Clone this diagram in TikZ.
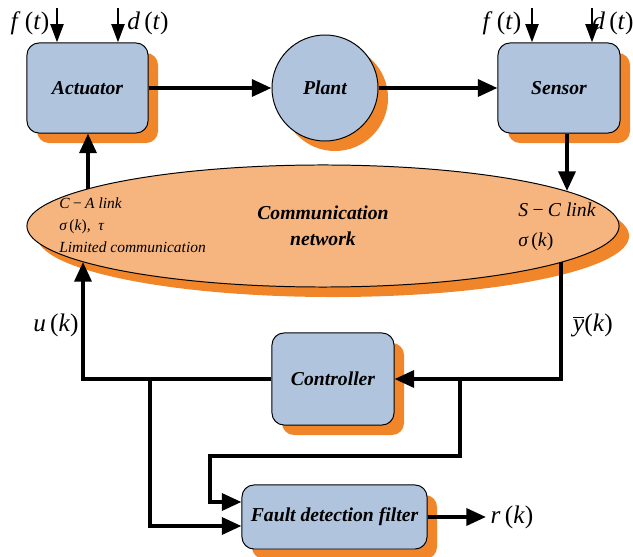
\documentclass[tikz,border=0pt]{standalone}
\usepackage{fontspec}
\setmainfont{Liberation Serif}
\usetikzlibrary{arrows.meta,shapes.geometric,shadows}
\definecolor{boxblue}{HTML}{B0C4DE}
\definecolor{shadoworange}{HTML}{F0852A}
\definecolor{netorange}{HTML}{F6B47E}
\tikzset{
  sigarr/.style={-{Triangle[length=14pt,width=12pt]},line width=2.8pt},
  distarr/.style={-{Triangle[length=13pt,width=9pt]},line width=2.1pt},
  blockshadow/.style={drop shadow={shadow xshift=0.25cm,shadow yshift=-0.25cm,fill=shadoworange,opacity=1}},
  blockbox/.style={draw=black,fill=boxblue,line width=0.7pt,rounded corners=0.3cm,blockshadow,align=center,inner sep=0pt,font=\fontsize{14}{16}\selectfont\bfseries\itshape},
  plantcirc/.style={circle,draw=black,fill=boxblue,line width=0.7pt,blockshadow,minimum size=2.65cm,inner sep=0pt,font=\fontsize{14}{16}\selectfont\bfseries\itshape},
  netellipse/.style={ellipse,draw=black,fill=netorange,line width=0.7pt,blockshadow,minimum width=14.8cm,minimum height=3.05cm,inner sep=0pt},
  siglabel/.style={inner sep=0pt,font=\fontsize{18}{20}\selectfont},
  leftlink/.style={anchor=west,align=left,inner sep=0pt,font=\fontsize{11}{15.6}\selectfont\itshape},
  rightlink/.style={anchor=west,align=left,inner sep=0pt,font=\fontsize{14}{21}\selectfont\itshape},
  nettitle/.style={align=center,inner sep=0pt,font=\fontsize{14}{18.5}\selectfont\bfseries\itshape}
}

\begin{document}
\begin{tikzpicture}[x=0.025cm,y=-0.025cm]
  \useasboundingbox (0,0) rectangle (633,557);
  % blocks
  \node[blockbox,minimum width=3.025cm,minimum height=2.25cm] (act) at (87.5,88) {Actuator};
  \node[plantcirc] (plant) at (325,88) {Plant};
  \node[blockbox,minimum width=3.05cm,minimum height=2.25cm] (sens) at (559,88) {Sensor};
  \node[netellipse] (net) at (323,226) {};
  \node[nettitle] (nettxt) at (323,226) {Communication\\network};
  \node[leftlink] (calink) at (59,225) {C\,−\,A link\\\textit{σ}\,\textup{(}k\textup{)},\ \ \textit{τ}\\Limited communication};
  \node[rightlink] (sclink) at (518,227) {S\,−\,C link\\\textit{σ}\,\textup{(}k\textup{)}};
  \node[blockbox,minimum width=3.05cm,minimum height=2.3cm] (ctrl) at (333,379) {Controller};
  \node[blockbox,minimum width=4.625cm,minimum height=1.6cm] (fdf) at (334.5,517) {Fault detection filter};

  % disturbances and faults
  \coordinate (fa) at (57,8);
  \coordinate (da) at (118,8);
  \coordinate (fs) at (532,8);
  \coordinate (ds) at (592,8);
  \draw[distarr] (fa) -- (fa |- act.north);
  \draw[distarr] (da) -- (da |- act.north);
  \draw[distarr] (fs) -- (fs |- sens.north);
  \draw[distarr] (ds) -- (ds |- sens.north);
  \node[siglabel] (falab) at (30,23) {\textit{f}\,(\textit{t})};
  \node[siglabel] (dalab) at (148,23) {\textit{d}\,(\textit{t})};
  \node[siglabel] (fslab) at (502,23) {\textit{f}\,(\textit{t})};
  \node[siglabel] (dslab) at (613,23) {\textit{d}\,(\textit{t})};

  % loop
  \draw[sigarr] (act.east) -- (plant.west);
  \draw[sigarr] (plant.east) -- (sens.west);
  \coordinate (scin) at (567,191);
  \draw[sigarr] (sens.south -| scin) -- (scin);
  \coordinate (caout) at (88,189);
  \draw[sigarr] (caout) -- (caout |- act.south);
  \coordinate (uin) at (83,262);
  \draw[sigarr] (ctrl.west) -| (uin);
  \coordinate (yout) at (561,262);
  \draw[sigarr] (yout) |- (ctrl.east);
  \node[siglabel] (ulab) at (56,325) {\textit{u}\,(\textit{k})};
  \node[siglabel] (ylab) at (593,325) {$\overline{\mbox{\itshape y}}$(\textit{k})};

  % residual generator
  \coordinate (ubr) at (150,379);
  \coordinate (ybr) at (460,379);
  \coordinate (jog) at (210,456);
  \draw[sigarr] (ubr) |- ([yshift=-0.225cm]fdf.west);
  \draw[sigarr] (ybr) |- (jog) |- ([yshift=0.375cm]fdf.west);
  \coordinate (rout) at (486,517);
  \draw[sigarr] (fdf.east) -- (rout);
  \node[siglabel] (rlab) at (512,517) {\textit{r}\,(\textit{k})};
\end{tikzpicture}
\end{document}
